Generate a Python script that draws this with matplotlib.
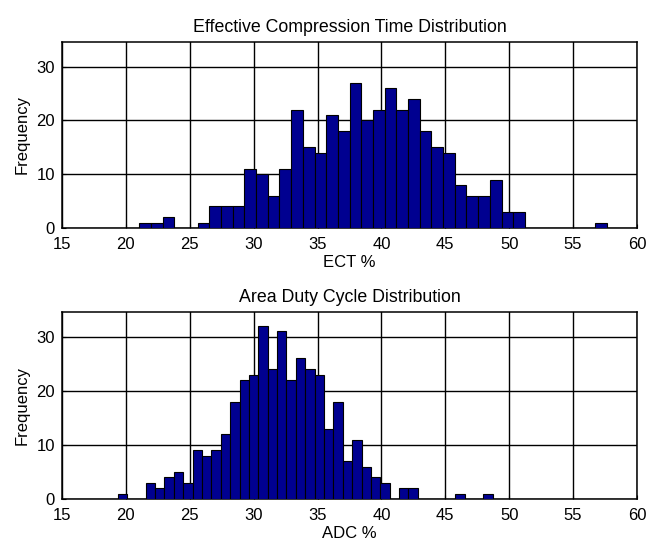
import numpy as np
import matplotlib
matplotlib.use("Agg")
import matplotlib.pyplot as plt

plt.rcParams['font.family'] = ['Liberation Sans', 'DejaVu Sans']

# histogram counts (40 bins each)
ect_counts = [1, 1, 2, 0, 0, 1, 4, 4, 4, 11, 10, 6, 11, 22, 15, 14, 21, 18, 27, 20,
              22, 26, 22, 24, 18, 15, 14, 8, 6, 6, 9, 3, 3, 0, 0, 0, 0, 0, 0, 1]
ect_range = (21.04, 57.63)

adc_counts = [1, 0, 0, 3, 2, 4, 5, 3, 9, 8, 9, 12, 18, 22, 23, 32, 24, 31, 22, 26,
              24, 23, 13, 18, 7, 11, 6, 4, 3, 0, 2, 2, 0, 0, 0, 0, 1, 0, 0, 1]
adc_range = (19.35, 48.72)

x_ticks = [15, 20, 25, 30, 35, 40, 45, 50, 55, 60]
y_ticks = [0, 10, 20, 30]

titles = ["Effective Compression Time Distribution", "Area Duty Cycle Distribution"]
xlabels = ["ECT %", "ADC %"]

fig = plt.figure(figsize=(6.49, 5.47), dpi=100)
ax_top = fig.add_axes([62 / 649, 1 - 228 / 547, 575 / 649, 186 / 547])
ax_bot = fig.add_axes([62 / 649, 1 - 499 / 547, 575 / 649, 187 / 547])


def draw_hist(ax, counts, rng, title, xlabel):
    edges = np.linspace(rng[0], rng[1], len(counts) + 1)
    ax.bar(edges[:-1], counts, width=np.diff(edges), align='edge',
           color='#000090', edgecolor='black', linewidth=0.8, zorder=3)
    ax.set_xlim(15, 60)
    ax.set_ylim(0, 34.6)
    ax.set_xticks(x_ticks)
    ax.set_yticks(y_ticks)
    ax.grid(True, color='black', linewidth=1.0, zorder=0)
    ax.set_axisbelow(True)
    ax.tick_params(direction='in', length=3, labelsize=12, width=0.8)
    ax.tick_params(axis='x', pad=6.5)
    ax.tick_params(axis='y', pad=5)
    for s in ax.spines.values():
        s.set_linewidth(1.1)
    ax.set_title(title, fontsize=12.8, pad=7)
    ax.set_xlabel(xlabel, fontsize=12, labelpad=2)
    ax.set_ylabel("Frequency", fontsize=12, labelpad=5)


draw_hist(ax_top, ect_counts, ect_range, titles[0], xlabels[0])
draw_hist(ax_bot, adc_counts, adc_range, titles[1], xlabels[1])

fig.savefig("out.png", dpi=100)
